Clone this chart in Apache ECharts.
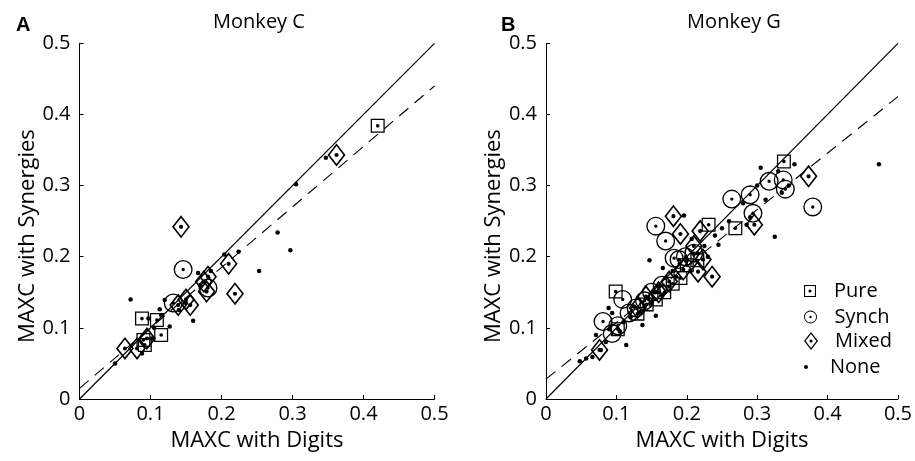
<!DOCTYPE html>
<html><head><meta charset="utf-8">
<script src="https://cdn.jsdelivr.net/npm/echarts@6/dist/echarts.min.js"></script>
<style>html,body{margin:0;padding:0;background:#fff}#c{width:915px;height:461px}</style>
</head><body><div id="c"></div>
<script>
// ---- data ----
const tickLabels = ['0','0.1','0.2','0.3','0.4','0.5'];
const panelTitles = ['Monkey C','Monkey G'];
const panelLetters = ['A','B'];
const legendNames = ['Pure','Synch','Mixed','None'];

const pureA = [[0.420,0.384],[0.088,0.113],[0.109,0.111],[0.115,0.090],[0.090,0.083],[0.092,0.076]];
const synchA = [[0.146,0.182],[0.181,0.156],[0.132,0.135]];
const mixedA = [[0.143,0.242],[0.362,0.343],[0.210,0.190],[0.219,0.148],[0.181,0.172],[0.139,0.132],[0.156,0.132],[0.064,0.071],[0.081,0.071],[0.179,0.151],[0.175,0.165],[0.150,0.140],[0.095,0.085]];
const noneA = [[0.347,0.339],[0.305,0.302],[0.279,0.234],[0.297,0.209],[0.253,0.180],[0.224,0.207],[0.204,0.203],[0.072,0.140],[0.050,0.050],[0.160,0.110],[0.127,0.102],[0.113,0.126],[0.120,0.139],[0.167,0.177],[0.097,0.113],[0.102,0.085],[0.088,0.064],[0.185,0.180],[0.140,0.125],[0.150,0.135],[0.170,0.160],[0.105,0.100],[0.115,0.118]];

const pureB = [[0.338,0.334],[0.231,0.245],[0.269,0.240],[0.099,0.151],[0.102,0.098],[0.191,0.170],[0.143,0.133],[0.156,0.140],[0.168,0.150],[0.180,0.162],[0.130,0.120],[0.200,0.188],[0.215,0.195]];
const synchB = [[0.264,0.281],[0.290,0.287],[0.156,0.243],[0.170,0.222],[0.189,0.196],[0.317,0.306],[0.337,0.308],[0.340,0.295],[0.379,0.270],[0.294,0.261],[0.109,0.140],[0.081,0.109],[0.094,0.092],[0.118,0.121],[0.182,0.198],[0.198,0.200],[0.150,0.150],[0.165,0.160],[0.140,0.138],[0.128,0.128],[0.210,0.205],[0.102,0.103]];
const mixedB = [[0.373,0.313],[0.296,0.245],[0.181,0.257],[0.191,0.232],[0.223,0.196],[0.216,0.179],[0.236,0.172],[0.219,0.236],[0.076,0.069],[0.142,0.144],[0.160,0.150],[0.175,0.165],[0.195,0.182],[0.130,0.128],[0.210,0.215]];
const noneB = [[0.473,0.330],[0.325,0.228],[0.305,0.325],[0.353,0.330],[0.312,0.280],[0.147,0.195],[0.196,0.258],[0.245,0.217],[0.207,0.225],[0.166,0.184],[0.048,0.053],[0.057,0.057],[0.066,0.059],[0.071,0.090],[0.089,0.128],[0.094,0.121],[0.114,0.076],[0.137,0.104],[0.156,0.117],[0.078,0.069],[0.085,0.080],[0.090,0.098],[0.105,0.095],[0.110,0.108],[0.120,0.115],[0.125,0.130],[0.133,0.122],[0.140,0.130],[0.145,0.142],[0.150,0.135],[0.155,0.150],[0.160,0.158],[0.165,0.145],[0.170,0.170],[0.175,0.158],[0.180,0.180],[0.185,0.172],[0.190,0.190],[0.200,0.195],[0.205,0.180],[0.215,0.205],[0.225,0.215],[0.230,0.200],[0.240,0.230],[0.250,0.240],[0.260,0.250],[0.280,0.275],[0.300,0.300],[0.330,0.320],[0.345,0.300],[0.335,0.290],[0.285,0.245],[0.290,0.255]];

const identityLine = [[0,0],[0.5,0.5]];
const fitA = [[0,0.015],[0.5,0.44]];
const fitB = [[0,0.028],[0.5,0.425]];

// ---- symbols ----
const SQ = 'path://M0 0L100 0L100 100L0 100Z M9 9L9 91L91 91L91 9Z M37 50A13 13 0 1 1 63 50A13 13 0 1 1 37 50Z';
const CI = 'path://M0 50A50 50 0 1 1 100 50A50 50 0 1 1 0 50Z M7 50A43 43 0 1 0 93 50A43 43 0 1 0 7 50Z M41 50A9 9 0 1 1 59 50A9 9 0 1 1 41 50Z';
const DI = 'path://M39 0L78 50L39 100L0 50Z M39 11.4L8.9 50L39 88.6L69.1 50Z M30 50A9 9 0 1 1 48 50A9 9 0 1 1 30 50Z';

const FONT = '"Open Sans", sans-serif';
const chart = echarts.init(document.getElementById('c'), null, {renderer:'canvas'});

const grids = [
  {left:79.5, top:43.3, width:355, height:355.7},
  {left:546, top:43.3, width:355, height:355.7}
];
function xAx(i){return {gridIndex:i,type:'value',min:0,max:0.5,interval:0.1,
  axisLine:{show:true,lineStyle:{color:'#000',width:1}},
  axisTick:{show:true,inside:true,length:4,lineStyle:{color:'#000'}},
  splitLine:{show:false},
  axisLabel:{color:'#000',fontSize:20,fontFamily:FONT,margin:5,formatter:v=>tickLabels[Math.round(v*10)]},
  name:'MAXC with Digits',nameLocation:'middle',nameGap:31,
  nameTextStyle:{color:'#000',fontSize:22,fontFamily:FONT}};}
function yAx(i){return {gridIndex:i,type:'value',min:0,max:0.5,interval:0.1,
  axisLine:{show:true,lineStyle:{color:'#000',width:1}},
  axisTick:{show:true,inside:true,length:4,lineStyle:{color:'#000'}},
  splitLine:{show:false},
  axisLabel:{color:'#000',fontSize:20,fontFamily:FONT,margin:9,formatter:v=>tickLabels[Math.round(v*10)]},
  name:'MAXC with Synergies',nameLocation:'middle',nameGap:39,nameRotate:90,
  nameTextStyle:{color:'#000',fontSize:22,fontFamily:FONT,padding:[0,30,0,0]}};}

function sc(name,i,data,symbol,size){return {name,type:'scatter',xAxisIndex:i,yAxisIndex:i,data,symbol,symbolSize:size,
  itemStyle:{color:'#000',opacity:1},emphasis:{disabled:true},silent:true,z:3};}
function ln(i,data,dashed){return {type:'line',xAxisIndex:i,yAxisIndex:i,data,symbol:'none',silent:true,
  lineStyle:{color:'#000',width:dashed?1.1:1.2,type:dashed?[12,8]:'solid'},z:2};}

const series = [];
[[pureA,synchA,mixedA,noneA,fitA],[pureB,synchB,mixedB,noneB,fitB]].forEach((p,i)=>{
  series.push(ln(i,identityLine,false));
  series.push(ln(i,p[4],true));
  series.push(sc(legendNames[0],i,p[0],SQ,14));
  series.push(sc(legendNames[1],i,p[1],CI,19));
  series.push(sc(legendNames[2],i,p[2],DI,[18,23]));
  series.push(sc(legendNames[3],i,p[3],'circle',4.5));
});

function lg(name,icon,top,w,h,left){return {data:[{name,icon}],left,top,orient:'vertical',itemWidth:w,itemHeight:h,
  selectedMode:false,padding:0,textStyle:{color:'#000',fontSize:20,fontFamily:FONT,padding:[0,0,0,6]},
  itemStyle:{color:'#000'}};}

const option = {
  animation:false,
  backgroundColor:'#fff',
  grid:grids,
  xAxis:[xAx(0),xAx(1)],
  yAxis:[yAx(0),yAx(1)],
  legend:[
    lg(legendNames[0],SQ,281,26,12,804),
    lg(legendNames[1],CI,307,26,13,804),
    lg(legendNames[2],DI,331,26,18,804),
    lg(legendNames[3],'circle',357,26,4,804)
  ],
  title:[
    {text:panelTitles[0],left:254,top:7,textAlign:'center',textStyle:{fontSize:20,fontWeight:'normal',fontFamily:FONT,color:'#000'}},
    {text:panelTitles[1],left:729,top:7,textAlign:'center',textStyle:{fontSize:20,fontWeight:'normal',fontFamily:FONT,color:'#000'}},
    {text:panelLetters[0],left:11,top:10,textStyle:{fontSize:20,fontWeight:'bold',fontFamily:'"Liberation Sans", Arial, sans-serif',color:'#000'}},
    {text:panelLetters[1],left:496,top:10,textStyle:{fontSize:20,fontWeight:'bold',fontFamily:'"Liberation Sans", Arial, sans-serif',color:'#000'}}
  ],
  series
};
chart.setOption(option);
</script></body></html>
